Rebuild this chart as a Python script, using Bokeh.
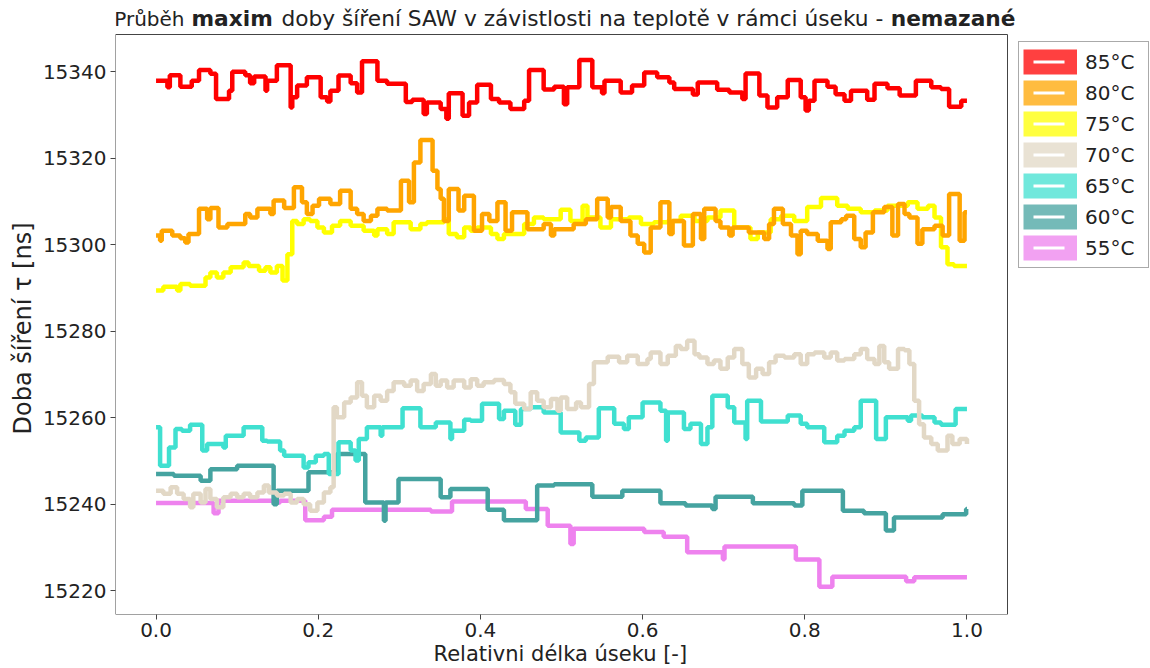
import numpy as np
from bokeh.plotting import figure
from bokeh.models import Range1d, FixedTicker, NumeralTickFormatter, Legend, LegendItem, Title
from bokeh.core.properties import value
from bokeh.embed import file_html
from bokeh.resources import INLINE

# ---------------- data (relative position of change, value in ns) ----------------
labels = ["85°C", "80°C", "75°C", "70°C", "65°C", "60°C", "55°C"]
x_ticks = [0.0, 0.2, 0.4, 0.6, 0.8, 1.0]
y_ticks = [15220, 15240, 15260, 15280, 15300, 15320, 15340]

t85_x = [0.000, 0.014, 0.017, 0.030, 0.044, 0.053, 0.067, 0.074, 0.090, 0.094, 0.110, 0.116, 0.121, 0.135, 0.137,
         0.149, 0.166, 0.168, 0.174, 0.186, 0.203, 0.211, 0.215, 0.225, 0.240, 0.248, 0.254, 0.273, 0.285, 0.308,
         0.316, 0.330, 0.334, 0.351, 0.358, 0.361, 0.378, 0.386, 0.396, 0.413, 0.423, 0.437, 0.454, 0.460, 0.478,
         0.491, 0.503, 0.507, 0.522, 0.538, 0.550, 0.553, 0.573, 0.587, 0.602, 0.618, 0.633, 0.639, 0.662, 0.668,
         0.692, 0.707, 0.723, 0.727, 0.744, 0.754, 0.766, 0.779, 0.795, 0.801, 0.805, 0.812, 0.828, 0.838, 0.849,
         0.857, 0.877, 0.886, 0.902, 0.917, 0.937, 0.956, 0.968, 0.978, 0.993, 1.000]
t85_y = [15337.9, 15336.4, 15339.2, 15336.5, 15337.9, 15340.4, 15339.5, 15333.7, 15335.6, 15340.0,
         15339.2, 15337.3, 15338.9, 15335.6, 15337.9, 15341.5, 15331.7, 15334.1, 15336.8, 15338.7,
         15334.1, 15333.1, 15335.6, 15339.1, 15337.3, 15335.2, 15342.4, 15337.9, 15337.2, 15333.0,
         15333.5, 15330.2, 15332.9, 15331.4, 15329.1, 15335.0, 15329.8, 15332.9, 15337.0, 15333.7,
         15332.9, 15331.4, 15333.3, 15340.4, 15335.9, 15336.5, 15332.5, 15336.4, 15342.7, 15336.4,
         15335.0, 15337.9, 15335.2, 15336.8, 15339.8, 15338.7, 15337.5, 15336.0, 15334.7, 15337.5,
         15335.8, 15335.2, 15333.7, 15339.6, 15334.5, 15331.7, 15334.1, 15338.1, 15334.1, 15331.0,
         15333.3, 15337.9, 15336.5, 15334.8, 15333.3, 15335.6, 15333.5, 15337.2, 15336.2, 15334.5,
         15337.9, 15336.4, 15336.0, 15331.9, 15333.3, 15333.3]

t80_x = [0.000, 0.005, 0.007, 0.020, 0.030, 0.036, 0.040, 0.053, 0.063, 0.067, 0.077, 0.088, 0.110, 0.116, 0.125,
         0.141, 0.145, 0.158, 0.170, 0.180, 0.186, 0.193, 0.201, 0.215, 0.227, 0.240, 0.248, 0.256, 0.265, 0.273,
         0.285, 0.302, 0.312, 0.318, 0.326, 0.341, 0.347, 0.351, 0.355, 0.361, 0.373, 0.380, 0.392, 0.402, 0.411,
         0.421, 0.431, 0.439, 0.458, 0.478, 0.487, 0.491, 0.515, 0.530, 0.544, 0.557, 0.561, 0.573, 0.585, 0.594,
         0.602, 0.610, 0.622, 0.633, 0.637, 0.651, 0.662, 0.672, 0.676, 0.690, 0.696, 0.707, 0.711, 0.731, 0.750,
         0.756, 0.762, 0.773, 0.783, 0.791, 0.795, 0.803, 0.816, 0.828, 0.832, 0.845, 0.851, 0.861, 0.869, 0.875,
         0.884, 0.898, 0.908, 0.915, 0.923, 0.929, 0.939, 0.945, 0.960, 0.970, 0.978, 0.991, 0.997, 1.000]
t80_y = [15302.1, 15300.9, 15303.2, 15302.1, 15301.5, 15300.5, 15302.5, 15308.3, 15305.9, 15308.5,
         15304.0, 15304.8, 15307.1, 15306.3, 15308.3, 15307.1, 15310.2, 15308.5, 15313.3, 15309.8,
         15307.1, 15309.0, 15310.6, 15309.4, 15312.5, 15308.3, 15307.1, 15305.5, 15306.7, 15308.3,
         15307.9, 15314.8, 15309.8, 15319.0, 15324.2, 15317.1, 15312.9, 15310.6, 15305.5, 15312.9,
         15307.9, 15311.3, 15303.2, 15307.1, 15305.5, 15309.8, 15303.2, 15307.5, 15303.6, 15304.8,
         15302.1, 15303.6, 15304.8, 15305.9, 15310.6, 15306.3, 15308.7, 15305.5, 15302.1, 15300.2,
         15298.2, 15304.0, 15309.8, 15302.5, 15305.5, 15299.8, 15307.1, 15301.3, 15308.3, 15305.5,
         15304.0, 15302.1, 15304.0, 15302.8, 15301.3, 15304.8, 15308.3, 15304.8, 15302.1, 15297.8,
         15303.2, 15302.5, 15300.9, 15299.0, 15305.2, 15305.9, 15306.7, 15301.3, 15299.4, 15302.8,
         15307.5, 15308.7, 15302.1, 15309.4, 15307.1, 15306.3, 15300.2, 15303.6, 15304.4, 15302.1,
         15311.7, 15300.9, 15307.5, 15307.5]

t75_x = [0.000, 0.009, 0.026, 0.030, 0.042, 0.061, 0.067, 0.075, 0.083, 0.092, 0.108, 0.114, 0.127, 0.135, 0.141,
         0.149, 0.156, 0.162, 0.168, 0.174, 0.182, 0.190, 0.199, 0.207, 0.217, 0.227, 0.240, 0.256, 0.269, 0.273,
         0.285, 0.293, 0.314, 0.326, 0.334, 0.355, 0.361, 0.371, 0.380, 0.388, 0.396, 0.413, 0.421, 0.429, 0.454,
         0.466, 0.478, 0.499, 0.511, 0.526, 0.532, 0.548, 0.561, 0.583, 0.598, 0.614, 0.631, 0.647, 0.664, 0.680,
         0.696, 0.713, 0.733, 0.742, 0.758, 0.771, 0.787, 0.803, 0.820, 0.840, 0.853, 0.869, 0.886, 0.902, 0.927,
         0.939, 0.952, 0.960, 0.968, 0.976, 0.984, 1.000]
t75_y = [15289.4, 15290.3, 15289.4, 15290.9, 15290.5, 15292.4, 15293.6, 15292.4, 15293.6, 15294.8,
         15295.9, 15295.1, 15294.0, 15294.8, 15293.6, 15295.1, 15291.7, 15297.8, 15305.5, 15304.8,
         15305.9, 15305.5, 15304.0, 15302.8, 15304.4, 15305.5, 15304.4, 15303.2, 15302.1, 15303.6,
         15302.5, 15305.2, 15303.6, 15304.8, 15305.2, 15305.9, 15302.5, 15301.7, 15304.0, 15303.2,
         15304.0, 15302.5, 15301.3, 15302.5, 15304.8, 15306.3, 15305.9, 15308.1, 15305.5, 15309.0,
         15306.3, 15304.0, 15305.9, 15306.3, 15304.8, 15305.2, 15305.5, 15306.7, 15305.5, 15306.3,
         15307.9, 15304.0, 15301.3, 15302.8, 15305.9, 15306.7, 15305.5, 15308.7, 15310.8, 15309.0,
         15308.3, 15307.5, 15307.9, 15309.0, 15309.8, 15308.3, 15309.0, 15306.3, 15299.4, 15295.5,
         15295.1, 15295.1]

t70_x = [0.000, 0.009, 0.018, 0.026, 0.034, 0.042, 0.046, 0.055, 0.061, 0.067, 0.075, 0.083, 0.092, 0.100, 0.108,
         0.116, 0.125, 0.133, 0.139, 0.149, 0.158, 0.166, 0.174, 0.182, 0.190, 0.199, 0.207, 0.215, 0.219, 0.223,
         0.232, 0.240, 0.248, 0.254, 0.260, 0.269, 0.277, 0.285, 0.293, 0.306, 0.314, 0.322, 0.330, 0.339, 0.345,
         0.351, 0.359, 0.367, 0.380, 0.388, 0.396, 0.404, 0.417, 0.429, 0.437, 0.443, 0.454, 0.462, 0.470, 0.478,
         0.487, 0.495, 0.499, 0.507, 0.518, 0.524, 0.534, 0.540, 0.557, 0.571, 0.581, 0.594, 0.606, 0.610, 0.622,
         0.631, 0.641, 0.647, 0.655, 0.664, 0.670, 0.680, 0.688, 0.696, 0.705, 0.713, 0.723, 0.731, 0.740, 0.748,
         0.756, 0.764, 0.775, 0.787, 0.795, 0.803, 0.812, 0.824, 0.832, 0.840, 0.849, 0.861, 0.869, 0.877, 0.886,
         0.892, 0.898, 0.904, 0.915, 0.923, 0.929, 0.935, 0.941, 0.947, 0.956, 0.964, 0.976, 0.982, 0.991, 1.000]
t70_y = [15243.1, 15242.4, 15243.9, 15242.4, 15241.2, 15239.3, 15242.4, 15240.4, 15243.5, 15241.2,
         15239.3, 15241.6, 15242.4, 15241.6, 15242.4, 15241.6, 15242.7, 15244.3, 15242.7, 15242.0,
         15242.4, 15240.4, 15241.2, 15240.0, 15238.5, 15240.4, 15242.7, 15243.9, 15262.4, 15260.1,
         15263.5, 15264.7, 15268.2, 15265.1, 15262.4, 15265.1, 15263.9, 15266.2, 15268.2, 15267.4,
         15268.6, 15266.2, 15267.8, 15270.1, 15267.4, 15268.6, 15267.0, 15268.6, 15267.0, 15268.9,
         15267.4, 15268.2, 15268.7, 15267.8, 15265.9, 15263.2, 15262.0, 15265.9, 15263.9, 15262.4,
         15264.3, 15261.6, 15264.7, 15262.0, 15263.5, 15262.4, 15267.8, 15272.8, 15274.1, 15272.8,
         15274.3, 15272.4, 15273.6, 15275.1, 15272.4, 15274.3, 15276.6, 15275.9, 15277.8, 15274.7,
         15273.9, 15272.4, 15273.2, 15271.3, 15273.9, 15275.9, 15272.4, 15269.3, 15271.3, 15270.1,
         15272.8, 15274.3, 15273.9, 15274.7, 15272.4, 15274.7, 15275.1, 15273.9, 15275.1, 15273.2,
         15273.6, 15274.7, 15275.9, 15273.6, 15272.4, 15276.6, 15272.8, 15271.3, 15275.9, 15275.6,
         15272.4, 15263.9, 15258.5, 15255.4, 15253.9, 15252.4, 15255.8, 15253.9, 15255.1, 15253.9]

t65_x = [0.000, 0.005, 0.016, 0.024, 0.032, 0.042, 0.057, 0.063, 0.083, 0.086, 0.108, 0.131, 0.137, 0.153, 0.158,
         0.182, 0.188, 0.197, 0.207, 0.213, 0.225, 0.240, 0.246, 0.250, 0.260, 0.277, 0.279, 0.304, 0.326, 0.345,
         0.363, 0.365, 0.380, 0.388, 0.402, 0.423, 0.429, 0.443, 0.450, 0.462, 0.478, 0.499, 0.522, 0.530, 0.546,
         0.565, 0.577, 0.583, 0.600, 0.622, 0.629, 0.631, 0.651, 0.659, 0.672, 0.680, 0.686, 0.705, 0.713, 0.727,
         0.729, 0.746, 0.779, 0.795, 0.803, 0.824, 0.840, 0.849, 0.861, 0.869, 0.888, 0.900, 0.927, 0.931, 0.945,
         0.960, 0.968, 0.986, 1.000]
t65_y = [15257.8, 15248.9, 15253.1, 15257.4, 15257.0, 15258.4, 15252.4, 15253.9, 15253.1, 15255.8,
         15257.8, 15254.7, 15254.5, 15252.4, 15251.2, 15248.5, 15249.7, 15251.2, 15251.6, 15247.0,
         15254.3, 15252.4, 15250.1, 15255.1, 15257.8, 15255.8, 15257.8, 15262.2, 15257.8, 15258.9,
         15255.1, 15257.0, 15259.5, 15259.3, 15263.2, 15259.7, 15261.6, 15258.4, 15262.0, 15262.4,
         15261.2, 15256.6, 15254.7, 15255.4, 15262.2, 15258.6, 15257.4, 15260.1, 15263.5, 15261.6,
         15254.7, 15261.2, 15257.4, 15258.6, 15253.9, 15257.8, 15265.1, 15262.4, 15258.9, 15255.1,
         15263.9, 15259.1, 15260.5, 15258.6, 15257.8, 15254.3, 15255.8, 15257.0, 15257.8, 15263.9,
         15255.1, 15260.1, 15259.3, 15260.5, 15260.1, 15258.9, 15258.4, 15262.0, 15262.0]

t60_x = [0.000, 0.022, 0.055, 0.067, 0.100, 0.145, 0.149, 0.188, 0.223, 0.258, 0.281, 0.283, 0.299, 0.351, 0.363,
         0.409, 0.429, 0.470, 0.491, 0.538, 0.575, 0.622, 0.653, 0.686, 0.690, 0.736, 0.787, 0.797, 0.847, 0.873,
         0.900, 0.910, 0.970, 0.999, 1.000]
t60_y = [15247.0, 15246.6, 15245.4, 15248.1, 15248.9, 15240.0, 15243.1, 15247.4, 15251.6, 15240.4,
         15236.2, 15240.4, 15245.8, 15241.6, 15243.5, 15238.7, 15236.3, 15244.3, 15244.6, 15241.7,
         15243.1, 15240.2, 15239.7, 15238.9, 15241.7, 15240.2, 15239.7, 15243.1, 15238.5, 15237.9,
         15233.9, 15236.9, 15237.7, 15238.9, 15238.9]

t55_x = [0.000, 0.071, 0.077, 0.145, 0.153, 0.184, 0.207, 0.217, 0.339, 0.365, 0.456, 0.483, 0.511, 0.515, 0.602,
         0.626, 0.655, 0.699, 0.701, 0.789, 0.818, 0.834, 0.925, 0.935, 1.000]
t55_y = [15240.3, 15237.9, 15240.8, 15240.4, 15240.8, 15236.3, 15237.1, 15238.7, 15238.3, 15240.6,
         15238.9, 15235.0, 15230.8, 15234.3, 15233.6, 15232.5, 15228.9, 15227.3, 15230.2, 15227.2,
         15220.9, 15223.2, 15222.2, 15223.1, 15223.1]

series_x = [t85_x, t80_x, t75_x, t70_x, t65_x, t60_x, t55_x]
series_y = [t85_y, t80_y, t75_y, t70_y, t65_y, t60_y, t55_y]
line_colors = ["#ff0000", "#ffa500", "#ffff00", "#e2d8c6", "#40e0d0", "#45a3a0", "#ee82ee"]

title_regular_1 = "Průběh"
title_bold_1 = "maxim"
title_regular_2 = "doby šíření SAW v závistlosti na teplotě v rámci úseku -"
title_bold_2 = "nemazané"
x_label = "Relativni délka úseku [-]"
y_label = "Doba šíření τ [ns]"

FONT = "DejaVu Sans"
TXT = "#222222"

# axes box limits (matplotlib-like 5 % margins)
X0, X1 = -0.05, 1.05
Y0, Y1 = 15214.5, 15348.6
# frame extended to the right (legend) and to the top (title) so those texts are not clipped
FRAME_LEFT, BOX_RIGHT, BOX_TOP, BOX_BOTTOM = 115, 1007, 34, 614
sx = (X1 - X0) / (BOX_RIGHT - FRAME_LEFT)
sy = (Y1 - Y0) / (BOX_BOTTOM - BOX_TOP)
XR = X1 + (1150 - BOX_RIGHT) * sx
YT = Y1 + BOX_TOP * sy

def px_x(px):
    return X0 + (px - FRAME_LEFT) * sx

def px_y(py):
    return YT - py * sy

p = figure(width=1150, height=668, output_backend="svg", toolbar_location=None,
           x_range=Range1d(X0, XR), y_range=Range1d(Y0, YT),
           min_border_left=FRAME_LEFT, min_border_right=0, min_border_top=0, min_border_bottom=54)
p.title = None
p.background_fill_color = "white"
p.border_fill_color = "white"
p.outline_line_color = None
p.xgrid.visible = False
p.ygrid.visible = False

# axes box
p.quad(left=[X0], right=[X1], bottom=[Y0], top=[Y1], fill_color=None, line_color="#444444", line_width=1)

# data lines, 55 °C drawn first, 85 °C last
for xs, ys, c in reversed(list(zip(series_x, series_y, line_colors))):
    p.step(xs, ys, mode="after", line_color=c, line_width=4.5)

for ax in (p.xaxis[0], p.yaxis[0]):
    ax.axis_line_color = None
    ax.major_tick_line_color = "#444444"
    ax.major_tick_in = 0
    ax.major_tick_out = 5
    ax.minor_tick_line_color = None
    ax.major_label_text_font = FONT
    ax.major_label_text_font_size = "20px"
    ax.major_label_text_color = TXT

p.xaxis.ticker = FixedTicker(ticks=x_ticks)
p.xaxis.formatter = NumeralTickFormatter(format="0.0")
p.xaxis.major_label_standoff = 3

p.yaxis.ticker = FixedTicker(ticks=y_ticks)
p.yaxis.major_label_standoff = 4

# axis labels centred on the axes box (not on the extended frame)
p.add_layout(Title(text=x_label, align="left", offset=433 - FRAME_LEFT, standoff=0,
                   text_font=FONT, text_font_size="21px", text_font_style="normal",
                   text_color=TXT), "below")
p.add_layout(Title(text=y_label, align="left", offset=BOX_BOTTOM - 434, standoff=6,
                   text_font=FONT, text_font_size="24px", text_font_style="normal",
                   text_color=TXT), "left")

# title made of regular and bold pieces
ty = px_y(18)
p.text(x=[px_x(184)], y=[ty], text=[title_regular_1], text_font=value(FONT), text_font_size="20px",
       text_align="right", text_baseline="middle", text_color=TXT)
p.text(x=[px_x(191)], y=[ty], text=[title_bold_1], text_font=value(FONT), text_font_size="21.7px",
       text_font_style="bold", text_align="left", text_baseline="middle", text_color=TXT)
p.text(x=[px_x(281)], y=[ty], text=[title_regular_2], text_font=value(FONT), text_font_size="21.7px",
       text_align="left", text_baseline="middle", text_color=TXT)
p.text(x=[px_x(1015)], y=[ty], text=[title_bold_2], text_font=value(FONT), text_font_size="21.7px",
       text_font_style="bold", text_align="right", text_baseline="middle", text_color=TXT)

# legend: thick translucent swatch with a short white bar
items = []
for lab, c in zip(labels, line_colors):
    r1 = p.line(x=[np.nan], y=[np.nan], line_color=c, line_alpha=0.75, line_width=25, line_cap="butt")
    r2 = p.line(x=[np.nan], y=[np.nan], line_color="white", line_width=3, line_dash="0 10 31 200", line_cap="butt")
    items.append(LegendItem(label=lab, renderers=[r1, r2]))
legend = Legend(items=items, location=(1018 - FRAME_LEFT, BOX_BOTTOM - 268), orientation="vertical",
                glyph_width=54, glyph_height=31, spacing=0, padding=4, margin=0,
                label_standoff=8, label_width=59,
                label_text_font=FONT, label_text_font_size="20px", label_text_color=TXT,
                border_line_color="#555555", border_line_width=1.2,
                background_fill_color="white", background_fill_alpha=1.0)
p.add_layout(legend, "center")

open("out.html", "w").write(file_html(p, INLINE))
